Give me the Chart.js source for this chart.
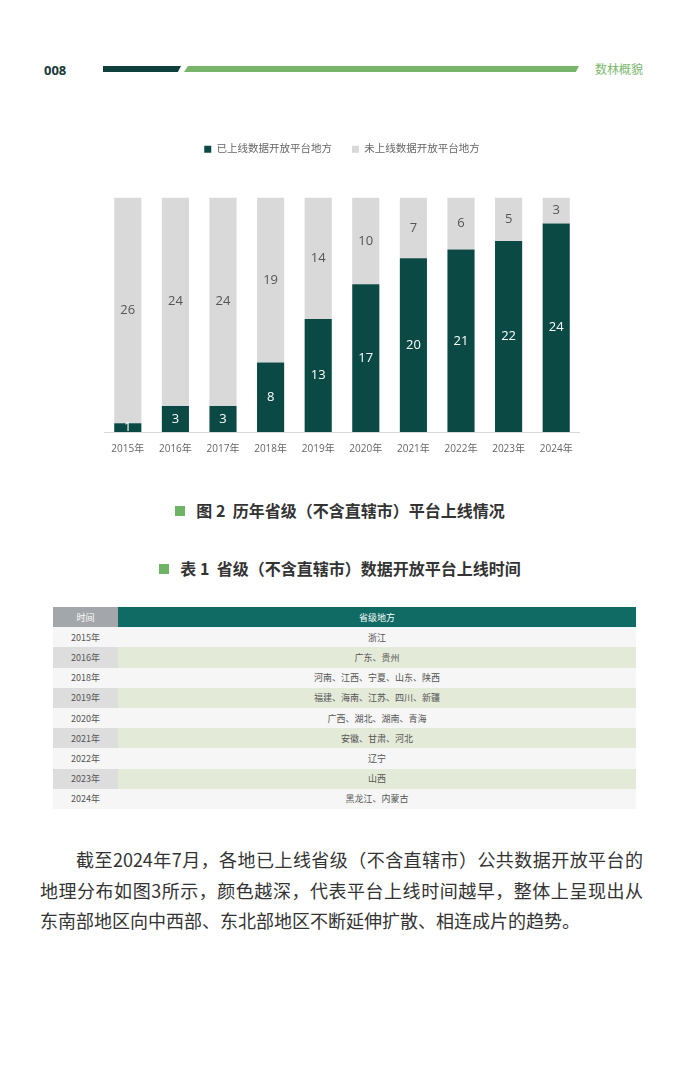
<!DOCTYPE html>
<html>
<head>
<meta charset="utf-8">
<script src="https://cdn.jsdelivr.net/npm/chart.js@4.4.1/dist/chart.umd.min.js"></script>
<style>
  html, body { margin: 0; padding: 0; background: #fff; }
  body { width: 680px; height: 1077px; position: relative; overflow: hidden;
         font-family: 'Noto Sans CJK SC', 'Noto Sans', sans-serif; }
  .page-no { position: absolute; left: 44px; top: 61px; font: bold 13px 'Open Sans', 'Noto Sans', sans-serif; color: #173838; }
  .bar-dark { position: absolute; left: 103px; top: 66px; width: 78px; height: 6px; background: #0f3f3c;
              clip-path: polygon(0 0, 100% 0, 96% 100%, 0 100%); }
  .bar-green { position: absolute; left: 184px; top: 66px; width: 395px; height: 6px; background: #76b56a;
               clip-path: polygon(1% 0, 100% 0, 99.2% 100%, 0 100%); }
  .section { position: absolute; left: 595px; top: 60px; font-size: 12px; color: #7cb870; }
  .chart-box { position: absolute; left: 104px; top: 124px; width: 476px; height: 334px; }
  .caption { position: absolute; left: 0; width: 680px; text-align: center; font-size: 16px; font-weight: bold; color: #333; }
  .caption i { display: inline-block; width: 10px; height: 10px; background: #6fb466; margin-right: 11px; vertical-align: 1px; }
  table { position: absolute; left: 53px; top: 607px; width: 583px; border-collapse: collapse; table-layout: fixed; }
  td, th { height: 20.2px; padding: 0; text-align: center; font-size: 9px; color: #555; font-weight: normal; }
  th { color: #fff; }
  th.t { background: #a3a7ac; width: 65px; }
  th.p { background: #0f6b64; }
  tr.odd td { background: #f6f6f6; }
  tr.even td.t { background: #dddddd; }
  tr.even td.p { background: #e4ead8; }
  .para { position: absolute; left: 40px; top: 844px; width: 603px; font-size: 18px; line-height: 30.5px; color: #333; }
  .para div { text-align: justify; text-align-last: justify; white-space: nowrap; }
  .para div.last { text-align-last: left; }
</style>
</head>
<body>
<div class="page-no">008</div>
<div class="bar-dark"></div>
<div class="bar-green"></div>
<div class="section">数林概貌</div>

<div class="chart-box"><canvas id="chart"></canvas></div>

<div class="caption" style="top:498px;"><i></i>图 2&nbsp;&nbsp;历年省级（不含直辖市）平台上线情况</div>
<div class="caption" style="top:556px;"><i></i>表 1&nbsp;&nbsp;省级（不含直辖市）数据开放平台上线时间</div>

<table id="tbl"></table>

<div class="para">
  <div style="padding-left:36px;">截至2024年7月，各地已上线省级（不含直辖市）公共数据开放平台的</div>
  <div>地理分布如图3所示，颜色越深，代表平台上线时间越早，整体上呈现出从</div>
  <div class="last">东南部地区向中西部、东北部地区不断延伸扩散、相连成片的趋势。</div>
</div>

<script>
const years = ['2015年', '2016年', '2017年', '2018年', '2019年', '2020年', '2021年', '2022年', '2023年', '2024年'];
const online = [1, 3, 3, 8, 13, 17, 20, 21, 22, 24];
const offline = [26, 24, 24, 19, 14, 10, 7, 6, 5, 3];
const seriesNames = ['已上线数据开放平台地方', '未上线数据开放平台地方'];

const tableYears = ['2015年', '2016年', '2018年', '2019年', '2020年', '2021年', '2022年', '2023年', '2024年'];
const tableRegions = ['浙江', '广东、贵州', '河南、江西、宁夏、山东、陕西', '福建、海南、江苏、四川、新疆',
  '广西、湖北、湖南、青海', '安徽、甘肃、河北', '辽宁', '山西', '黑龙江、内蒙古'];

// table
const tbl = document.getElementById('tbl');
let html = '<tr><th class="t">时间</th><th class="p">省级地方</th></tr>';
tableYears.forEach((y, i) => {
  html += `<tr class="${i % 2 === 0 ? 'odd' : 'even'}"><td class="t">${y}</td><td class="p">${tableRegions[i]}</td></tr>`;
});
tbl.innerHTML = html;

const FONT = "'Open Sans', 'Noto Sans CJK SC', sans-serif";

// value labels inside each bar segment
const barLabels = {
  id: 'barLabels',
  afterDatasetsDraw(chart) {
    const ctx = chart.ctx;
    ctx.save();
    ctx.font = `13px ${FONT}`;
    ctx.textAlign = 'center';
    ctx.textBaseline = 'middle';
    chart.data.datasets.forEach((ds, di) => {
      chart.getDatasetMeta(di).data.forEach((bar, i) => {
        const mid = (bar.y + bar.base) / 2;
        ctx.fillStyle = di === 0 ? '#ffffff' : '#555555';
        ctx.fillText(ds.data[i], bar.x, mid);
      });
    });
    ctx.restore();
  }
};

// extra room under the legend
const legendGap = {
  id: 'legendGap',
  beforeInit(chart) {
    const fit = chart.legend.fit;
    chart.legend.fit = function () {
      fit.bind(chart.legend)();
      this.height += 33;
    };
  }
};

new Chart(document.getElementById('chart'), {
  type: 'bar',
  data: {
    labels: years,
    datasets: [
      { label: seriesNames[0], data: online, backgroundColor: '#0b4a44' },
      { label: seriesNames[1], data: offline, backgroundColor: '#d9d9d9' }
    ]
  },
  options: {
    responsive: true,
    maintainAspectRatio: false,
    animation: false,
    layout: { padding: 0 },
    datasets: { bar: { categoryPercentage: 1, barPercentage: 0.57 } },
    scales: {
      x: {
        stacked: true,
        grid: { display: false },
        border: { display: true, color: '#d9d9d9', width: 1 },
        ticks: { color: '#666', font: { family: FONT, size: 10 }, padding: 3 }
      },
      y: { stacked: true, display: false, min: 0, max: 27 }
    },
    plugins: {
      legend: {
        labels: { color: '#666', boxWidth: 7, boxHeight: 7, padding: 20, font: { family: FONT, size: 10.5 } }
      },
      tooltip: { enabled: false }
    }
  },
  plugins: [barLabels, legendGap]
});
</script>
</body>
</html>
